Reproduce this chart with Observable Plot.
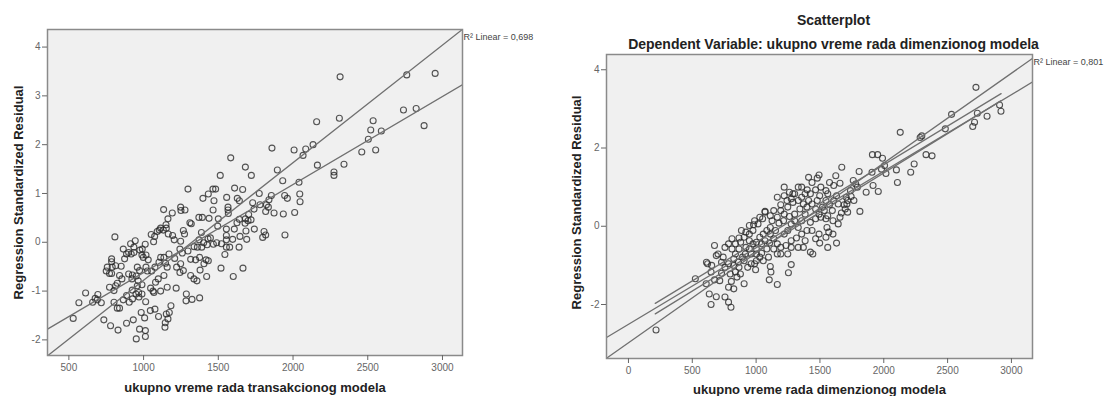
<!DOCTYPE html>
<html><head><meta charset="utf-8">
<script src="https://cdn.jsdelivr.net/npm/d3@7"></script>
<script src="https://cdn.jsdelivr.net/npm/@observablehq/plot@0.6"></script>
<style>
body{margin:0;background:#fff;width:1107px;height:396px;overflow:hidden;position:relative;font-family:"Liberation Sans",Arial,sans-serif;}
#left{position:absolute;left:0;top:0}
#right{position:absolute;left:560px;top:0}
svg{overflow:visible}
</style></head><body>
<div id="left"></div><div id="right"></div>
<script>
// ---------- Left panel data: ukupno vreme rada transakcionog modela ----------
const leftX = [2315,2761,2951,2739,2824,2877,2536,2520,2591,2504,2460,2553,2341,2274,2274,2310,2158,2134,2085,2067,2007,2163,1859,1895,1931,2040,2045,2047,2011,1946,1935,1962,1944,1583,1681,1721,1513,1297,1397,1433,1464,1482,1471,1556,1609,1663,1627,1641,1774,1855,1839,1822,1835,1873,1817,1779,1730,1739,1703,1681,1719,1699,1679,1641,1625,1565,1565,1567,1465,1500,1438,1496,1554,1607,1685,1741,1806,1817,1797,1690,1645,1596,1554,1554,1576,1639,1554,1544,1521,1489,1467,1425,1447,1387,1371,1338,1360,1389,1402,1431,1370,1393,1319,1310,1266,1274,1248,1277,1250,1134,1192,1163,1150,1114,1105,1091,1132,1152,1165,1194,1205,1051,1074,1067,1011,991,975,989,1016,1031,998,944,935,917,886,864,873,808,786,786,757,790,813,850,750,786,772,824,813,772,802,839,855,900,925,951,922,964,958,973,958,1016,1025,1054,1076,1103,1136,1147,1158,1170,1208,1221,1248,1243,1266,1259,1243,1248,1297,1315,1348,1375,1418,1433,1404,1378,1422,1315,1337,1357,1518,1600,1665,1136,1098,1080,1063,1047,1158,1218,1286,1284,1324,1375,967,949,886,864,904,926,989,969,1014,824,839,802,694,690,676,717,659,612,567,529,734,779,829,886,931,973,951,1012,1012,984,1007,1045,1076,1100,1152,1145,1143,1163,1172,1183,1114,1069,924,989,935,900,913,1114];
const leftY = [3.39,3.43,3.46,2.71,2.74,2.39,2.49,2.30,2.28,2.11,1.85,1.89,1.60,1.44,1.37,2.54,2.47,2.00,1.91,1.78,1.89,1.58,1.93,1.48,1.26,1.23,0.99,0.83,0.61,0.15,0.58,0.90,0.96,1.73,1.54,1.37,1.37,1.09,0.90,0.99,1.09,1.09,0.85,0.92,1.11,1.08,0.90,0.85,1.00,0.96,0.87,0.77,0.72,0.60,0.63,0.77,0.81,0.68,0.57,0.48,0.46,0.44,0.39,0.47,0.40,0.72,0.66,0.59,0.66,0.48,0.49,0.33,0.27,0.27,0.23,0.27,0.22,0.15,0.10,0.06,0.12,0.06,0.14,0.05,-0.10,-0.10,-0.10,-0.25,-0.03,-0.01,-0.04,-0.05,0.09,0.20,0.05,-0.09,-0.10,-0.10,-0.01,0.07,0.51,0.51,0.38,0.40,0.24,0.17,0.72,0.66,0.65,0.67,0.60,0.48,0.36,0.29,0.25,0.22,0.25,0.29,0.17,0.14,0.05,0.16,0.12,0.01,-0.04,-0.14,-0.16,-0.26,-0.26,-0.36,-0.31,0.03,-0.21,-0.24,-0.24,-0.14,-0.34,0.11,-0.34,-0.40,-0.51,-0.51,-0.48,-0.49,-0.59,-0.64,-0.64,-0.84,-0.89,-0.92,-0.99,-0.68,-0.75,-0.65,-0.67,-0.69,-0.75,-0.79,-0.89,-0.58,-0.51,-0.51,-0.59,-0.59,-0.51,-0.41,-0.31,-0.43,-0.51,-0.24,-0.33,-0.51,-0.44,-0.62,-0.58,-0.22,-0.14,0.02,-0.18,-0.35,-0.36,-0.31,-0.36,-0.38,-0.44,-0.57,-0.70,-0.68,-0.75,-0.79,-0.53,-0.70,-0.53,-0.68,-0.75,-0.82,-1.00,-0.94,-0.92,-0.94,-1.06,-1.20,-1.17,-1.14,-1.03,-1.06,-1.09,-1.18,-1.23,-1.16,-1.06,-1.12,-1.22,-1.35,-1.35,-1.23,-1.07,-1.18,-1.15,-1.24,-1.23,-1.04,-1.24,-1.56,-1.59,-1.71,-1.80,-1.66,-1.59,-1.78,-1.98,-1.81,-1.93,-1.44,-1.55,-1.40,-1.37,-1.52,-1.47,-1.65,-1.74,-1.57,-1.44,-1.30,-1.00,-1.03,-0.98,-0.87,-0.10,-0.21,-0.03,-0.31];
const leftLineSlope = [0.002409, 0.001803];
const leftLineIntercept = [-3.187, -2.424];
const leftXTicks = [500, 1000, 1500, 2000, 2500, 3000];
const leftYTicks = [-2, -1, 0, 1, 2, 3, 4];
const leftR2 = "R² Linear = 0,698";
const leftXTitle = "ukupno vreme rada transakcionog modela";

// ---------- Right panel data: ukupno vreme rada dimenzionog modela ----------
const rightX = [216,2722,2531,2482,2733,2711,2697,2809,2907,2918,2129,2285,2298,2331,2378,2238,2211,2099,2107,1911,1952,1990,2006,2017,1982,1908,1916,1957,1862,1807,1813,1717,1671,1624,1575,1608,1657,1761,1780,1793,1744,1717,1690,1698,1668,1630,1608,1561,1493,1479,1411,1438,1400,1466,1498,1547,1575,1597,1561,1555,1569,1630,1561,1498,1444,1425,1370,1275,1253,1166,1111,1116,1103,996,1288,1357,1330,1288,1248,1220,1193,1166,1125,1070,1051,1015,980,975,947,906,885,866,838,811,838,893,915,947,975,1002,1029,1056,1084,1111,1138,1166,1193,1220,1248,1275,1302,1330,1357,1384,1398,1438,1466,1493,1507,1466,1425,1398,1357,1316,1275,1234,1193,1138,1084,1043,1002,961,906,866,825,784,742,702,674,688,620,611,652,647,674,715,524,609,633,647,688,756,784,803,784,825,806,850,906,877,838,797,756,729,729,756,784,811,879,947,1002,1043,1070,1106,1111,1152,1179,1215,1261,1302,1343,1370,1275,1302,1242,1220,1193,1138,1111,1070,1029,988,947,920,1166,1357,1384,1520,1438,1493,1547,1384,1330,1466,1248,1275,1166,1097,1056,1029,961,920,866,825,860,934,988,1002,1602,1643,1602,1547,1657,1711,1766,1739,1706,1643,1534,1479,1411,1425,1507,1547,1330,1261,1220];
const rightY = [-2.65,3.55,2.86,2.49,2.89,2.66,2.55,2.81,3.10,2.94,2.40,2.27,2.31,1.83,1.80,1.59,1.38,1.44,1.12,1.83,1.83,1.74,1.55,1.35,1.46,1.38,1.04,0.89,0.87,1.40,0.38,0.36,1.51,1.29,1.12,1.04,1.10,1.17,1.08,1.00,0.76,0.66,0.55,0.44,0.34,0.78,0.66,0.83,1.31,1.23,1.25,1.12,0.93,0.93,0.78,0.66,0.55,0.40,0.27,-0.03,-0.15,-0.43,-0.54,-0.43,-0.71,-0.66,-0.54,-0.98,-1.19,-1.49,-1.03,-1.17,-1.37,-1.11,0.83,0.74,0.66,0.61,0.49,0.31,0.40,0.23,0.14,0.36,0.19,0.06,0.04,-0.11,-0.20,-0.28,-0.11,-0.30,-0.45,-0.58,-0.71,-0.79,-0.71,-0.58,-0.45,-0.41,-0.28,-0.20,-0.11,-0.20,-0.32,-0.45,-0.54,-0.20,-0.11,0.06,0.14,-0.03,0.14,0.31,0.49,0.57,0.44,0.31,0.23,0.19,0.10,-0.11,-0.20,-0.30,-0.37,-0.49,-0.71,-0.58,-0.58,-0.69,-0.88,-0.96,-0.88,-1.05,-1.00,-0.96,-0.79,-0.71,-0.49,-0.75,-0.96,-0.92,-1.00,-1.17,-1.37,-1.39,-1.34,-1.47,-1.73,-2.00,-1.80,-1.81,-1.94,-2.07,-1.56,-1.60,-1.41,-1.30,-1.47,-1.22,-1.17,-1.22,-1.05,-1.20,-0.92,-0.54,-0.45,-0.32,-0.41,-0.37,-0.58,-0.45,-0.37,-0.43,-0.03,-0.11,0.08,0.14,0.25,0.31,0.44,0.57,0.70,0.83,0.66,0.78,0.55,0.40,0.27,0.38,0.23,0.14,0.02,-0.15,0.74,1.00,0.83,0.49,-0.11,-0.20,-0.28,-0.37,-0.54,-0.32,-0.71,-0.54,-0.71,-0.79,-0.88,-0.79,-0.71,-0.54,-0.58,-0.83,-0.92,-1.05,-0.96,-0.71,-0.20,0.06,0.14,0.19,0.23,0.57,0.66,0.91,0.74,0.57,0.40,0.66,0.66,0.83,1.00,0.91,1.00,0.87,1.00];
const rightLineSlope = [0.002296, 0.001957, 0.001979, 0.002012];
const rightLineIntercept = [-2.978, -2.507, -2.386, -2.662];
const rightLineFrom = [null, null, 210, 210];
const rightLineTo = [null, null, 2919, 2919];
const rightXTicks = [0, 500, 1000, 1500, 2000, 2500, 3000];
const rightYTicks = [-2, 0, 2, 4];
const rightR2 = "R² Linear = 0,801";
const rightXTitle = "ukupno vreme rada dimenzionog modela";
const rightTitle = "Scatterplot";
const rightSubtitle = "Dependent Variable: ukupno vreme rada dimenzionog modela";
const yTitle = "Regression Standardized Residual";

function scatter(o) {
  const pts = o.xs.map((x, i) => ({x, y: o.ys[i]}));
  const segs = o.slope.flatMap((m, k) => {
    const a = (o.from && o.from[k] != null) ? o.from[k] : o.xDomain[0];
    const b = (o.to && o.to[k] != null) ? o.to[k] : o.xDomain[1];
    return [a, b].map(x => ({k, x, y: o.intercept[k] + m * x}));
  });
  const marks = [
    Plot.frame({fill: "#f0f0f0", stroke: null}),
    Plot.dot(pts, {x: "x", y: "y", r: 3, stroke: "#2b2b2b", strokeOpacity: 0.8, strokeWidth: 1.1, fill: "none"}),
    Plot.line(segs, {x: "x", y: "y", z: "k", stroke: "#707070", strokeWidth: 1.3, clip: true}),
    Plot.frame({stroke: "#8a8a8a", strokeWidth: 1.5}),
    Plot.axisX({ticks: o.xTicks, tickSize: 5, tickPadding: 3, label: null, color: "#666", fontSize: 10, tickFormat: d => String(d)}),
    Plot.axisY({ticks: o.yTicks, tickSize: 5, tickPadding: 2, label: null, color: "#666", fontSize: 10, tickFormat: d => String(d)}),
    Plot.text([o.xTitle], {frameAnchor: "bottom", lineAnchor: "middle", dy: o.xTitleDy, text: d => d, fontWeight: "bold", fontSize: 13, fill: "#222"}),
    Plot.text([yTitle], {frameAnchor: "left", textAnchor: "middle", lineAnchor: "middle", dx: o.yTitleDx, dy: o.yTitleDy, rotate: -90, text: d => d, fontWeight: "bold", fontSize: 13, fill: "#222"}),
    Plot.text([o.r2], {frameAnchor: "top-right", textAnchor: "start", lineAnchor: "middle", dx: 1, dy: o.r2Dy, text: d => d, fontSize: 9, fill: "#444"})
  ];
  if (o.title) {
    marks.push(Plot.text([o.title], {frameAnchor: "top", lineAnchor: "middle", dx: 14, dy: -34, text: d => d, fontWeight: "bold", fontSize: 14, fill: "#222"}));
    marks.push(Plot.text([o.subtitle], {frameAnchor: "top", lineAnchor: "middle", dx: 14, dy: -10, text: d => d, fontWeight: "bold", fontSize: 14, fill: "#222"}));
  }
  return Plot.plot({
    width: o.width, height: 396,
    marginLeft: o.ml, marginRight: o.mr, marginTop: o.mt, marginBottom: o.mb,
    style: {fontFamily: '"Liberation Sans", Arial, sans-serif', background: "transparent", overflow: "visible"},
    x: {domain: o.xDomain},
    y: {domain: o.yDomain},
    marks
  });
}

document.getElementById("left").append(scatter({
  xs: leftX, ys: leftY, slope: leftLineSlope, intercept: leftLineIntercept,
  xDomain: [357, 3134], yDomain: [-2.32, 4.36], xTicks: leftXTicks, yTicks: leftYTicks,
  xTitle: leftXTitle, r2: leftR2, width: 556, ml: 47, mr: 94, mt: 29, mb: 41,
  xTitleDy: 32, yTitleDx: -29, yTitleDy: 0, r2Dy: 8
}));
document.getElementById("right").append(scatter({
  xs: rightX, ys: rightY, slope: rightLineSlope, intercept: rightLineIntercept,
  from: rightLineFrom, to: rightLineTo,
  xDomain: [-172, 3165], yDomain: [-3.38, 4.39], xTicks: rightXTicks, yTicks: rightYTicks,
  xTitle: rightXTitle, r2: rightR2, title: rightTitle, subtitle: rightSubtitle,
  width: 547, ml: 46, mr: 75, mt: 54, mb: 38,
  xTitleDy: 31, yTitleDx: -30, yTitleDy: -4, r2Dy: 8
}));
</script>
</body></html>
